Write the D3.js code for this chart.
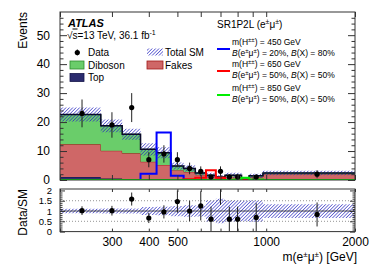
<!DOCTYPE html>
<html>
<head>
<meta charset="utf-8">
<script src="https://cdn.jsdelivr.net/npm/d3@7"></script>
<style>
body { margin: 0; background: #fff; }
svg { font-family: "Liberation Sans", Arial, sans-serif; }
</style>
</head>
<body>
<div id="chart"></div>
<script>
// bins in m(e+-mu+-) [GeV]
var binEdges   = [200, 275, 325, 375, 425, 475, 525, 575, 625, 675, 725, 775, 825, 875, 975, 2000];
var bkgTop     = [1.0, 0.5, 0.3, 0.2, 0.2, 0.1, 0.1, 0.1, 0.05, 0.05, 0.05, 0.05, 0.0, 0.05, 0.1];
var bkgFakes   = [11.3, 9.6, 8.9, 6.1, 5.0, 3.3, 2.7, 1.7, 1.1, 0.6, 1.1, 1.1, 0.0, 1.0, 1.9];
var bkgDiboson = [10.3, 8.6, 6.6, 4.3, 4.2, 1.4, 1.2, 0.6, 0.5, 0.35, 0.5, 0.5, 0.3, 0.4, 0.4];
var smUnc      = [2.4, 2.2, 1.9, 2.1, 1.9, 1.2, 1.1, 0.65, 0.85, 0.6, 0.85, 0.85, 0.15, 0.75, 0.8];
var dataCounts = [23, 19, 25, 7, 9, 7, 4, 3, 1, 3, 1, 1, 0, 1, 2];
var dataErr    = [4.8, 4.4, 5.0, 2.6, 3.0, 2.6, 2.0, 1.7, 1.0, 1.7, 1.0, 1.0, 0, 1.0, 1.4];
var sig450     = [0, 0, 0, 2.2, 16.4, 1.5, 0, 0, 0, 0, 0, 0, 0, 0, 0];
var sig650     = [0, 0, 0, 0, 0, 0, 0.3, 0.8, 3.4, 0.8, 0, 0, 0, 0, 0];
var sig850     = [0, 0, 0, 0, 0, 0, 0, 0, 0, 0, 0, 0.2, 0.8, 0.2, 0];

var xTicks      = [200, 300, 400, 500, 600, 700, 800, 900, 1000, 2000];
var xTickLabels = [300, 400, 500, 1000, 2000];
var yTicks      = [0, 10, 20, 30, 40, 50];
var ratioTicks  = [0, 0.5, 1, 1.5, 2];

var width = 374, height = 268;
var left = 60, right = 355;
var mainTop = 12, mainBottom = 180;
var ratTop = 189, ratBottom = 231.6;

var svg = d3.select("#chart").append("svg")
	.attr("width", width)
	.attr("height", height);

var x = d3.scaleLog().domain([200, 2000]).range([left, right]);
var y = d3.scaleLinear().domain([0, 58]).range([mainBottom, mainTop]);
var yr = d3.scaleLinear().domain([0, 2.07]).range([ratBottom, ratTop]);

var nb = bkgTop.length;
var total = bkgTop.map(function(d, i) { return d + bkgFakes[i] + bkgDiboson[i]; });

// hatch pattern for uncertainty
var defs = svg.append("defs");
var pat = defs.append("pattern")
	.attr("id", "hatch")
	.attr("patternUnits", "userSpaceOnUse")
	.attr("width", 2.4).attr("height", 2.4)
	.attr("patternTransform", "rotate(45)");
pat.append("line")
	.attr("x1", 0).attr("y1", 0).attr("x2", 0).attr("y2", 2.4)
	.attr("stroke", "#2626c0").attr("stroke-width", 1.2);

defs.append("clipPath").attr("id", "clipMain").append("rect")
	.attr("x", left).attr("y", mainTop).attr("width", right - left).attr("height", mainBottom - mainTop);
defs.append("clipPath").attr("id", "clipRat").append("rect")
	.attr("x", left).attr("y", ratTop).attr("width", right - left).attr("height", ratBottom - ratTop);

// step helpers
function stepPts(vals) {
	return binEdges.map(function(e, i) { return [e, vals[Math.min(i, nb - 1)]]; });
}
function stepArea(lo, hi, ys) {
	var pts = binEdges.map(function(e, i) { var k = Math.min(i, nb - 1); return [e, lo[k], hi[k]]; });
	return d3.area().curve(d3.curveStepAfter)
		.x(function(d) { return x(d[0]); })
		.y0(function(d) { return ys(d[1]); })
		.y1(function(d) { return ys(d[2]); })(pts);
}
function stepLine(vals, ys) {
	return d3.line().curve(d3.curveStepAfter)
		.x(function(d) { return x(d[0]); })
		.y(function(d) { return ys(d[1]); })(stepPts(vals));
}

var g = svg.append("g").attr("clip-path", "url(#clipMain)");

// stacked backgrounds
var zeros = bkgTop.map(function() { return 0; });
var cum1 = bkgTop.slice();
var cum2 = cum1.map(function(d, i) { return d + bkgFakes[i]; });
var cum3 = total;
var stack = [
	{lo: zeros, hi: cum1, fill: "#2b2b6e", stroke: "#16164a"},
	{lo: cum1, hi: cum2, fill: "#cf6767", stroke: "#a11a1a"},
	{lo: cum2, hi: cum3, fill: "#6acd6a", stroke: "#2e8b2e"}
];
stack.forEach(function(s) {
	g.append("path").attr("d", stepArea(s.lo, s.hi, y)).attr("fill", s.fill);
	g.append("path").attr("d", stepLine(s.hi, y)).attr("fill", "none")
		.attr("stroke", s.stroke).attr("stroke-width", 1);
});

// total SM uncertainty band
var upBand = total.map(function(d, i) { return d + smUnc[i]; });
var dnBand = total.map(function(d, i) { return Math.max(0, d - smUnc[i]); });
g.append("path").attr("d", stepArea(dnBand, upBand, y)).attr("fill", "url(#hatch)");
g.append("path").attr("d", stepLine(total, y)).attr("fill", "none")
	.attr("stroke", "#0a0a2a").attr("stroke-width", 1.5);

// signals
[[sig450, "#0000ff"], [sig650, "#ff0000"], [sig850, "#00ee00"]].forEach(function(s) {
	g.append("path").attr("d", stepLine(s[0], y)).attr("fill", "none")
		.attr("stroke", s[1]).attr("stroke-width", 2);
});

// data
var centers = d3.range(nb).map(function(i) { return (binEdges[i] + binEdges[i + 1]) / 2; });
var dataPts = d3.range(nb).filter(function(i) { return dataCounts[i] > 0; });
g.selectAll(".derr").data(dataPts).enter().append("line")
	.attr("x1", function(i) { return x(centers[i]); })
	.attr("x2", function(i) { return x(centers[i]); })
	.attr("y1", function(i) { return y(dataCounts[i] - dataErr[i]); })
	.attr("y2", function(i) { return y(dataCounts[i] + dataErr[i]); })
	.attr("stroke", "#222").attr("stroke-width", 1);
g.selectAll(".dpt").data(dataPts).enter().append("circle")
	.attr("cx", function(i) { return x(centers[i]); })
	.attr("cy", function(i) { return y(dataCounts[i]); })
	.attr("r", 2.6).attr("fill", "#000");

// ratio panel
var gr = svg.append("g").attr("clip-path", "url(#clipRat)");
var relUp = total.map(function(d, i) { return 1 + smUnc[i] / d; });
var relDn = total.map(function(d, i) { return 1 - smUnc[i] / d; });
gr.append("path").attr("d", stepArea(relDn, relUp, yr)).attr("fill", "url(#hatch)");
[0.5, 1.5].forEach(function(v) {
	gr.append("line").attr("x1", left).attr("x2", right)
		.attr("y1", yr(v)).attr("y2", yr(v))
		.attr("stroke", "#777").attr("stroke-width", 0.8).attr("stroke-dasharray", "1,2");
});
gr.append("line").attr("x1", left).attr("x2", right)
	.attr("y1", yr(1)).attr("y2", yr(1)).attr("stroke", "#222").attr("stroke-width", 0.8);
gr.selectAll(".rerr").data(dataPts).enter().append("line")
	.attr("x1", function(i) { return x(centers[i]); })
	.attr("x2", function(i) { return x(centers[i]); })
	.attr("y1", function(i) { return yr((dataCounts[i] - dataErr[i]) / total[i]); })
	.attr("y2", function(i) { return yr((dataCounts[i] + dataErr[i]) / total[i]); })
	.attr("stroke", "#222").attr("stroke-width", 1);
gr.selectAll(".rpt").data(dataPts).enter().append("circle")
	.attr("cx", function(i) { return x(centers[i]); })
	.attr("cy", function(i) { return yr(dataCounts[i] / total[i]); })
	.attr("r", 2.6).attr("fill", "#000");

// axes (ticks inside, ROOT style)
function frame(top, bottom) {
	svg.append("rect").attr("x", left).attr("y", top)
		.attr("width", right - left).attr("height", bottom - top)
		.attr("fill", "none").attr("stroke", "#333").attr("stroke-width", 1);
}
function cleanAxis(sel) {
	sel.select(".domain").remove();
	sel.selectAll("line").attr("stroke", "#333");
}

// main x ticks
svg.append("g").attr("transform", "translate(0," + mainBottom + ")")
	.call(d3.axisBottom(x).tickValues(xTicks).tickSize(-5).tickFormat(""))
	.call(cleanAxis);
svg.append("g").attr("transform", "translate(0," + mainTop + ")")
	.call(d3.axisTop(x).tickValues(xTicks).tickSize(-5).tickFormat(""))
	.call(cleanAxis);
// main y ticks
var yMinor = d3.range(0, 58, 2).filter(function(v) { return v % 10 !== 0; });
svg.append("g").attr("class", "ymain").attr("transform", "translate(" + left + ",0)")
	.call(d3.axisLeft(y).tickValues(yTicks).tickSize(-7).tickPadding(10))
	.call(cleanAxis);
svg.append("g").attr("transform", "translate(" + left + ",0)")
	.call(d3.axisLeft(y).tickValues(yMinor).tickSize(-3.5).tickFormat(""))
	.call(cleanAxis);
svg.append("g").attr("transform", "translate(" + right + ",0)")
	.call(d3.axisRight(y).tickValues(yTicks).tickSize(-7).tickFormat(""))
	.call(cleanAxis);
svg.append("g").attr("transform", "translate(" + right + ",0)")
	.call(d3.axisRight(y).tickValues(yMinor).tickSize(-3.5).tickFormat(""))
	.call(cleanAxis);

// ratio axes
svg.append("g").attr("class", "xrat").attr("transform", "translate(0," + ratBottom + ")")
	.call(d3.axisBottom(x).tickValues(xTicks).tickSize(-3).tickPadding(6)
		.tickFormat(function(d) { return xTickLabels.indexOf(d) >= 0 ? d : ""; }))
	.call(cleanAxis);
svg.append("g").attr("transform", "translate(0," + ratTop + ")")
	.call(d3.axisTop(x).tickValues(xTicks).tickSize(-3).tickFormat(""))
	.call(cleanAxis);
var rMinor = d3.range(0.1, 2.05, 0.1).filter(function(v) { return Math.abs(v * 2 - Math.round(v * 2)) > 0.01; });
svg.append("g").attr("class", "yrat").attr("transform", "translate(" + left + ",0)")
	.call(d3.axisLeft(yr).tickValues(ratioTicks).tickSize(-5).tickPadding(8)
		.tickFormat(function(d) { return d3.format("")(d); }))
	.call(cleanAxis);
svg.append("g").attr("transform", "translate(" + left + ",0)")
	.call(d3.axisLeft(yr).tickValues(rMinor).tickSize(-2.5).tickFormat(""))
	.call(cleanAxis);
svg.append("g").attr("transform", "translate(" + right + ",0)")
	.call(d3.axisRight(yr).tickValues(ratioTicks).tickSize(-5).tickFormat(""))
	.call(cleanAxis);
svg.append("g").attr("transform", "translate(" + right + ",0)")
	.call(d3.axisRight(yr).tickValues(rMinor).tickSize(-2.5).tickFormat(""))
	.call(cleanAxis);

svg.selectAll(".tick text").attr("font-size", 12)
	.attr("font-family", "'Liberation Sans', Arial, sans-serif").attr("fill", "#000");
svg.selectAll(".yrat .tick text").attr("font-size", 9.5);

frame(mainTop, mainBottom);
frame(ratTop, ratBottom);

// axis titles
svg.append("text").attr("transform", "translate(27," + mainTop + ") rotate(-90)")
	.attr("text-anchor", "end").attr("font-size", 12).text("Events");
svg.append("text").attr("transform", "translate(27," + ratTop + ") rotate(-90)")
	.attr("text-anchor", "end").attr("font-size", 12).text("Data/SM");

var xt = svg.append("text").attr("x", 357).attr("y", 261)
	.attr("text-anchor", "end").attr("font-size", 12);
xt.append("tspan").text("m(e");
xt.append("tspan").attr("dy", -4).attr("font-size", 8).text("±");
xt.append("tspan").attr("dy", 4).text("μ");
xt.append("tspan").attr("dy", -4).attr("font-size", 8).text("±");
xt.append("tspan").attr("dy", 4).text(") [GeV]");

// ATLAS label
svg.append("text").attr("x", 68).attr("y", 26.5)
	.attr("font-size", 11).attr("font-weight", "bold").attr("font-style", "italic").text("ATLAS");
var lum = svg.append("text").attr("x", 67).attr("y", 38.5).attr("font-size", 10);
lum.append("tspan").text("√");
lum.append("tspan").attr("text-decoration", "overline").text("s");
lum.append("tspan").text("=13 TeV, 36.1 fb");
lum.append("tspan").attr("dy", -4).attr("font-size", 7).text("-1");

// background legend
var lg = svg.append("g").attr("font-size", 10);
lg.append("line").attr("x1", 77.3).attr("x2", 77.3).attr("y1", 49.5).attr("y2", 55.5).attr("stroke", "#000");
lg.append("circle").attr("cx", 77.3).attr("cy", 52.5).attr("r", 2.6).attr("fill", "#000");
lg.append("text").attr("x", 88).attr("y", 56).text("Data");
lg.append("rect").attr("x", 70).attr("y", 61).attr("width", 14).attr("height", 8)
	.attr("fill", "#6acd6a").attr("stroke", "#2e8b2e").attr("stroke-width", 0.8);
lg.append("text").attr("x", 88).attr("y", 68.5).text("Diboson");
lg.append("rect").attr("x", 70).attr("y", 73.5).attr("width", 14).attr("height", 8)
	.attr("fill", "#2b2b6e").attr("stroke", "#16164a").attr("stroke-width", 0.8);
lg.append("text").attr("x", 88).attr("y", 81).text("Top");
lg.append("rect").attr("x", 147).attr("y", 48.5).attr("width", 16).attr("height", 7)
	.attr("fill", "url(#hatch)");
lg.append("text").attr("x", 165).attr("y", 56).text("Total SM");
lg.append("rect").attr("x", 147).attr("y", 61).attr("width", 16).attr("height", 8)
	.attr("fill", "#cf6767").attr("stroke", "#a11a1a").attr("stroke-width", 0.8);
lg.append("text").attr("x", 165).attr("y", 68.5).text("Fakes");

// signal legend
var sl = svg.append("g");
var reg = sl.append("text").attr("x", 217).attr("y", 28).attr("font-size", 10);
reg.append("tspan").text("SR1P2L (e");
reg.append("tspan").attr("dy", -4).attr("font-size", 7).text("±");
reg.append("tspan").attr("dy", 4).text("μ");
reg.append("tspan").attr("dy", -4).attr("font-size", 7).text("±");
reg.append("tspan").attr("dy", 4).text(")");

var sigLeg = [
	{color: "#0000ff", mass: "450", be: "20%", bx: "80%", y: 46},
	{color: "#ff0000", mass: "650", be: "50%", bx: "50%", y: 68},
	{color: "#00ee00", mass: "850", be: "50%", bx: "50%", y: 92}
];
sigLeg.forEach(function(s) {
	sl.append("line").attr("x1", 217).attr("x2", 230).attr("y1", s.y + 3).attr("y2", s.y + 3)
		.attr("stroke", s.color).attr("stroke-width", 2);
	var t1 = sl.append("text").attr("x", 232).attr("y", s.y - 1).attr("font-size", 8.5);
	t1.append("tspan").text("m(H");
	t1.append("tspan").attr("dy", -3).attr("font-size", 6).text("±±");
	t1.append("tspan").attr("dy", 3).text(") = " + s.mass + " GeV");
	var t2 = sl.append("text").attr("x", 232).attr("y", s.y + 9.5).attr("font-size", 8.5);
	t2.append("tspan").attr("font-style", "italic").text("B");
	t2.append("tspan").text("(e");
	t2.append("tspan").attr("dy", -3).attr("font-size", 6).text("±");
	t2.append("tspan").attr("dy", 3).text("μ");
	t2.append("tspan").attr("dy", -3).attr("font-size", 6).text("±");
	t2.append("tspan").attr("dy", 3).text(") = " + s.be + ", ");
	t2.append("tspan").attr("font-style", "italic").text("B");
	t2.append("tspan").text("(X) = " + s.bx);
});
</script>
</body>
</html>
